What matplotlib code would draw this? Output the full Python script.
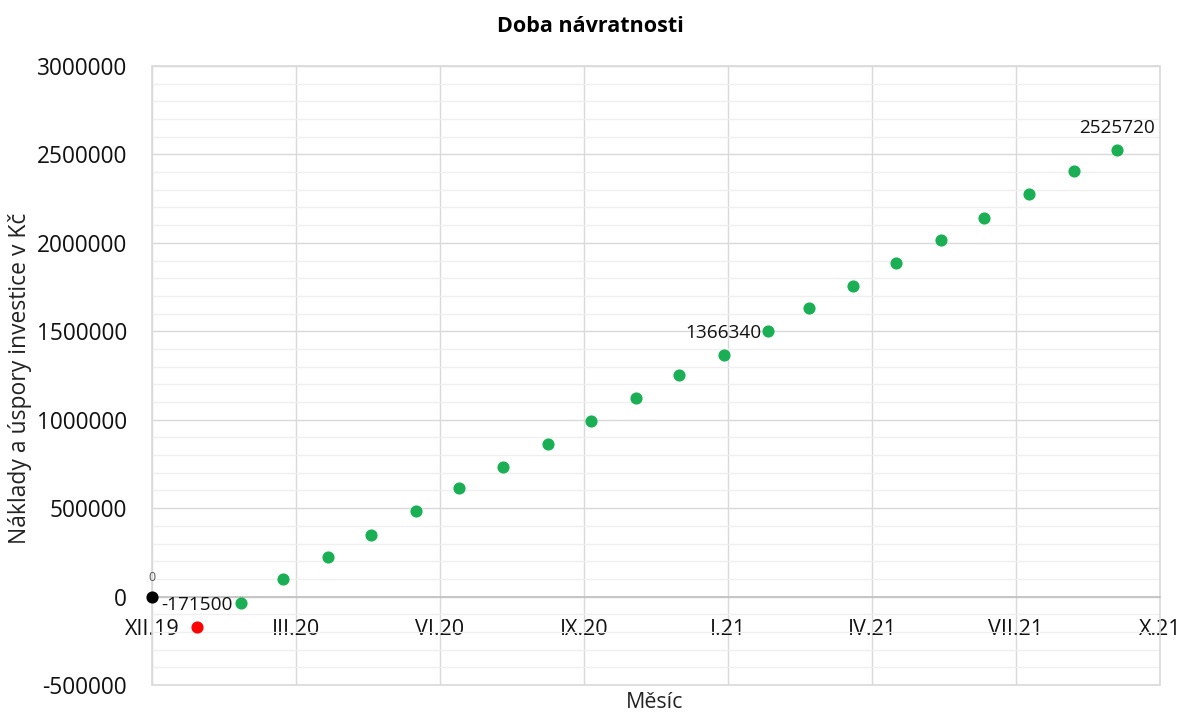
import matplotlib
matplotlib.use("Agg")
import matplotlib.pyplot as plt
import matplotlib.dates as mdates
from matplotlib.ticker import MultipleLocator, FixedLocator, FuncFormatter
from matplotlib.patches import Rectangle
import datetime as dt

plt.rcParams['font.family'] = ['Open Sans', 'DejaVu Sans']

# ---- data ----
start_month = ["2019-12-01"]
start_value = [0]
invest_month = ["2020-01-01"]
invest_value = [-171500]
save_months = ["2020-02-01", "2020-03-01", "2020-04-01", "2020-05-01", "2020-06-01",
               "2020-07-01", "2020-08-01", "2020-09-01", "2020-10-01", "2020-11-01",
               "2020-12-01", "2021-01-01", "2021-02-01", "2021-03-01", "2021-04-01",
               "2021-05-01", "2021-06-01", "2021-07-01", "2021-08-01", "2021-09-01",
               "2021-10-01"]
save_values = [-35000, 97000, 222000, 350000, 482000, 612000, 735000, 865000,
               992000, 1125000, 1252000, 1366340, 1500000, 1632000, 1758000,
               1885000, 2015000, 2140000, 2275000, 2405000, 2525720]
labels_shown = {"2019-12-01": "0", "2020-01-01": "-171500",
                "2021-01-01": "1366340", "2021-10-01": "2525720"}
title = "Doba návratnosti"
xlabel = "Měsíc"
ylabel = "Náklady a úspory investice v Kč"
roman = ["I", "II", "III", "IV", "V", "VI", "VII", "VIII", "IX", "X", "XI", "XII"]

def d(s):
    return dt.datetime.strptime(s, "%Y-%m-%d")

fig = plt.figure(figsize=(11.79, 7.13), dpi=100)
ax = fig.add_axes([152/1179, 1-685/713, (1160-152)/1179, (685-66)/713])

x0 = d("2019-12-01")
x1 = x0 + dt.timedelta(days=700)
ax.set_xlim(mdates.date2num(x0), mdates.date2num(x1))
ax.set_ylim(-500000, 3000000)

xt = [mdates.date2num(x0 + dt.timedelta(days=100*i)) for i in range(8)]
ax.xaxis.set_major_locator(FixedLocator(xt))
def fmt(v, pos):
    t = mdates.num2date(v)
    return f"{roman[t.month-1]}.{t.year % 100:02d}"
ax.xaxis.set_major_formatter(FuncFormatter(fmt))
ax.yaxis.set_major_locator(MultipleLocator(500000))
ax.yaxis.set_minor_locator(MultipleLocator(100000))
ax.yaxis.set_major_formatter(FuncFormatter(lambda v, p: f"{int(v)}"))

ax.grid(which='major', axis='both', color='#d9d9d9', linewidth=1.0, zorder=0)
ax.grid(which='minor', axis='y', color='#efefef', linewidth=0.9, zorder=0)
ax.set_axisbelow(True)

for s in ['top', 'right', 'left']:
    ax.spines[s].set_visible(False)
ax.spines['bottom'].set_position(('data', 0))
ax.spines['bottom'].set_color('#bfbfbf')
ax.spines['bottom'].set_linewidth(1.2)
ax.add_patch(Rectangle((0, 0), 1, 1, transform=ax.transAxes, fill=False,
                       edgecolor='#d9d9d9', linewidth=1.2, clip_on=False, zorder=1))

ax.tick_params(axis='both', which='both', length=0)
ax.tick_params(axis='y', labelsize=16.3, pad=18, colors='#111111')
ax.tick_params(axis='x', labelsize=15.5, pad=16, colors='#111111')

ms = 60
ax.scatter([mdates.date2num(d(s)) for s in start_month], start_value,
           s=ms, color='black', zorder=3, clip_on=False)
ax.scatter([mdates.date2num(d(s)) for s in invest_month], invest_value,
           s=ms, color='#ff0000', zorder=3)
ax.scatter([mdates.date2num(d(s)) for s in save_months], save_values,
           s=ms, color='#1aaf54', zorder=3)

all_months = start_month + invest_month + save_months
all_values = start_value + invest_value + save_values
for m, v in zip(all_months, all_values):
    if m in labels_shown:
        small = labels_shown[m] == "0"
        ax.annotate(labels_shown[m], (mdates.date2num(d(m)), v),
                    xytext=(0, 14 if small else 16), textcoords='offset points',
                    ha='center', va='center',
                    fontsize=9 if small else 13.7,
                    color='#555555' if small else '#111111', zorder=4)

fig.text(590/1179, 1-27/713, title, ha='center', va='center',
         fontsize=15.5, fontweight='bold')
fig.text(655/1179, 1-703/713, xlabel, ha='center', va='center', fontsize=15.4,
         color='#222222')
fig.text(20/1179, 1-378/713, ylabel, ha='center', va='center', fontsize=16.5,
         rotation=90, color='#222222')

fig.savefig("out.png", dpi=100)
